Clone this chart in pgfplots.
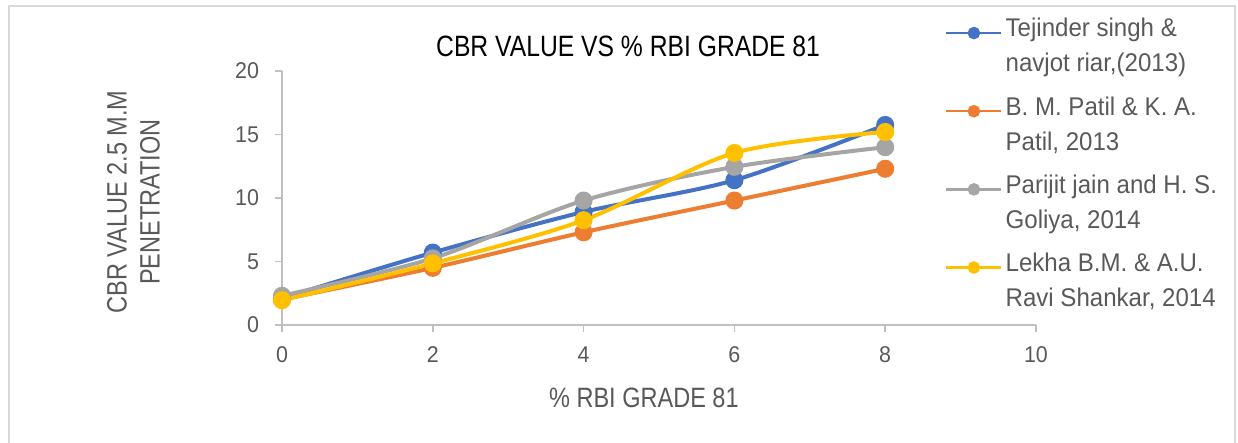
\documentclass[border=0pt]{standalone}
\usepackage{pgfplots}
\pgfplotsset{compat=1.18}
\usepackage{fontspec}
\setmainfont{Liberation Sans}[FakeStretch=0.94]
\newfontfamily\condfont{Liberation Sans}[FakeStretch=0.84]

\definecolor{sblue}{HTML}{4472C4}
\definecolor{sorange}{HTML}{ED7D31}
\definecolor{sgray}{HTML}{A5A5A5}
\definecolor{syellow}{HTML}{FFC000}
\definecolor{txt}{HTML}{595959}
\definecolor{axgray}{HTML}{BFBFBF}
\definecolor{framegray}{HTML}{D9D9D9}

\begin{document}
\begin{tikzpicture}
\path[use as bounding box] (-141pt,-59pt) rectangle (478pt,162.5pt);
\draw[framegray, line width=1pt] (-136.5pt,-70pt) -- (-136.5pt,159.5pt) -- (476.5pt,159.5pt) -- (476.5pt,-70pt);
\begin{axis}[
    width=377pt, height=127pt, scale only axis,
    xmin=0, xmax=10, ymin=0, ymax=20,
    xtick={0,2,...,10}, ytick={0,5,...,20},
    axis x line*=bottom, axis y line*=left,
    axis line style={-, axgray, line width=0.8pt},
    tick align=outside, major tick length=3.5pt,
    tick style={axgray, line width=0.8pt},
    ticklabel style={font=\fontsize{11.4}{13}\selectfont, text=txt},
    xticklabel style={yshift=-4pt},
    yticklabel style={xshift=-4.5pt},
    /pgf/number format/assume math mode=true,
    clip=false,
    every axis title shift=0pt,
    title={CBR VALUE VS \% RBI GRADE 81},
    title style={at={(rel axis cs:0.459,1.098)}, anchor=center, font=\condfont\fontsize{14.7}{17}\selectfont, text=black},
    xlabel={\% RBI GRADE 81},
    xlabel style={at={(rel axis cs:0.48,-0.287)}, anchor=center, font=\condfont\fontsize{14}{16}\selectfont, text=txt},
    ylabel={CBR VALUE 2.5 M.M\\PENETRATION},
    ylabel style={at={(rel axis cs:-0.197,0.484)}, anchor=center, align=center, font=\condfont\fontsize{14}{16.5}\selectfont, text=txt},
    every axis plot/.append style={line width=2pt, mark=*, mark size=3.5pt, smooth},
    legend image code/.code={
        \path[draw=none, fill=none] (0pt,-9.25pt) -- (0pt,9.25pt);
        \draw[mark repeat=2,mark phase=2] plot coordinates {(0pt,6.75pt)(13.75pt,6.75pt)(27.5pt,6.75pt)};},
    legend image post style={line width=1.25pt, mark size=2.5pt, sharp plot},
    legend style={at={(rel axis cs:0.879,1.209)}, anchor=north west, draw=none, fill=none, inner sep=0pt,
        row sep=10.8pt, column sep=1.5pt, font=\fontsize{12.8}{17.5}\selectfont, text=txt,
        cells={align=left}, nodes={inner sep=0pt}},
    legend cell align=left,
]
\addplot[sblue, mark options={fill=sblue, draw=sblue}] coordinates {(0,2.1)(2,5.7)(4,8.9)(6,11.4)(8,15.75)};
\addlegendentry{Tejinder singh \&\\navjot riar,(2013)}
\addplot[sorange, mark options={fill=sorange, draw=sorange}] coordinates {(0,2.0)(2,4.5)(4,7.3)(6,9.8)(8,12.3)};
\addlegendentry{B. M. Patil \& K. A.\\Patil, 2013}
\addplot[sgray, mark options={fill=sgray, draw=sgray}] coordinates {(0,2.3)(2,5.25)(4,9.8)(6,12.45)(8,14.0)};
\addlegendentry{Parijit jain and H. S.\\Goliya, 2014}
\addplot[syellow, mark options={fill=syellow, draw=syellow}] coordinates {(0,1.95)(2,4.85)(4,8.25)(6,13.55)(8,15.2)};
\addlegendentry{Lekha B.M. \& A.U.\\Ravi Shankar, 2014}
\end{axis}
\end{tikzpicture}
\end{document}
